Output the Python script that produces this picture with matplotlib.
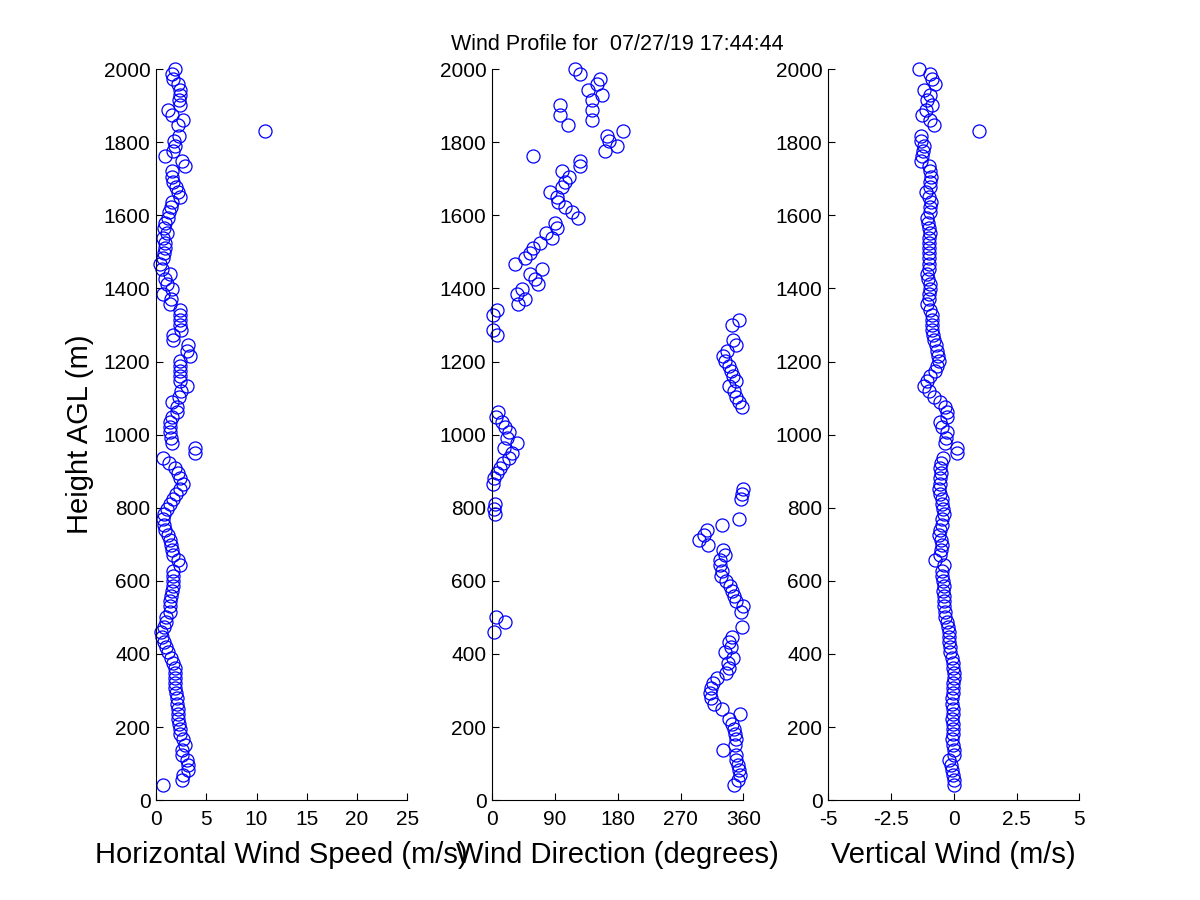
import matplotlib
matplotlib.use("Agg")
import matplotlib.pyplot as plt

plt.rcParams['font.family'] = ['Liberation Sans', 'DejaVu Sans']

# Range gate heights (m AGL), bottom to top
heights = [
    40, 54, 68, 82, 96, 110, 124, 138, 152, 166,
    180, 194, 208, 222, 236, 250, 264, 278, 292, 306,
    320, 334, 348, 362, 376, 390, 404, 418, 432, 446,
    460, 474, 488, 502, 516, 530, 544, 558, 572, 586,
    600, 614, 628, 642, 656, 670, 684, 698, 712, 726,
    740, 754, 768, 782, 796, 810, 824, 838, 852, 866,
    880, 894, 908, 922, 936, 950, 964, 978, 992, 1006,
    1020, 1034, 1048, 1062, 1076, 1090, 1104, 1118, 1132, 1146,
    1160, 1174, 1188, 1202, 1216, 1230, 1244, 1258, 1272, 1286,
    1300, 1314, 1328, 1342, 1356, 1370, 1384, 1398, 1412, 1426,
    1440, 1454, 1468, 1482, 1496, 1510, 1524, 1538, 1552, 1566,
    1580, 1594, 1608, 1622, 1636, 1650, 1664, 1678, 1692, 1706,
    1720, 1734, 1748, 1762, 1776, 1790, 1804, 1818, 1832, 1846,
    1860, 1874, 1888, 1902, 1916, 1930, 1944, 1958, 1972, 1986,
    2000,
]

# Horizontal wind speed (m/s)
speed = [
    0.7, 2.6, 2.7, 3.2, 3.2, 3.1, 2.6, 2.6, 2.9, 2.7,
    2.4, 2.4, 2.3, 2.2, 2.2, 2.2, 2.1, 2.1, 2.0, 1.9,
    1.9, 1.9, 1.9, 1.9, 1.7, 1.5, 1.2, 1.0, 0.8, 0.6,
    0.5, 0.8, 1.0, 1.0, 1.4, 1.4, 1.4, 1.5, 1.6, 1.7,
    1.7, 1.7, 1.7, 2.4, 2.2, 1.7, 1.6, 1.5, 1.4, 1.2,
    0.9, 0.8, 0.7, 0.8, 1.1, 1.4, 1.7, 2.0, 2.4, 2.7,
    2.4, 2.2, 1.9, 1.3, 0.7, 3.9, 3.9, 1.6, 1.5, 1.4,
    1.4, 1.4, 1.6, 2.1, 2.1, 1.6, 2.3, 2.5, 3.1, 2.4,
    2.4, 2.4, 2.4, 2.4, 3.4, 3.1, 3.2, 1.7, 1.7, 2.5,
    2.4, 2.4, 2.4, 2.4, 1.4, 1.5, 0.7, 1.6, 1.1, 0.9,
    1.4, 0.6, 0.4, 0.7, 0.8, 0.9, 0.9, 0.7, 1.1, 0.8,
    0.9, 1.2, 1.3, 1.5, 1.6, 2.4, 2.2, 2.0, 1.7, 1.6,
    1.6, 2.9, 2.6, 0.9, 1.7, 1.9, 1.8, 2.3, 10.8, 2.2,
    2.7, 1.6, 1.2, 2.4, 2.3, 2.4, 2.4, 2.2, 1.7, 1.6,
    1.9,
]

# Wind direction (degrees)
direction = [
    346, 352, 355, 353, 352, 350, 349, 331, 348, 349,
    348, 347, 343, 339, 355, 330, 318, 314, 312, 314,
    316, 322, 335, 340, 338, 345, 333, 342, 340, 344,
    3, 358, 19, 6, 356, 359, 350, 346, 343, 341,
    335, 328, 330, 326, 327, 333, 331, 310, 296, 303,
    308, 330, 353, 4, 3, 5, 357, 358, 359, 1,
    3, 7, 12, 16, 25, 29, 17, 36, 22, 24,
    18, 14, 6, 8, 358, 354, 350, 346, 339, 350,
    345, 342, 340, 334, 331, 336, 349, 345, 7, 2,
    343, 353, 2, 7, 37, 47, 36, 43, 66, 62,
    55, 71, 33, 47, 55, 59, 69, 86, 78, 93,
    90, 123, 114, 105, 95, 93, 83, 100, 105, 110,
    100, 126, 126, 59, 162, 179, 167, 165, 188, 109,
    143, 98, 143, 98, 143, 157, 138, 150, 155, 126,
    119,
]

# Vertical wind (m/s)
vertical = [
    0.0, 0.02, -0.03, -0.07, -0.12, -0.2, 0.0, 0.02, -0.02, -0.05,
    -0.03, -0.02, -0.03, -0.05, -0.03, -0.04, -0.05, -0.05, -0.03, -0.02,
    -0.01, 0.0, 0.02, -0.02, -0.03, -0.08, -0.13, -0.15, -0.18, -0.2,
    -0.2, -0.22, -0.28, -0.33, -0.35, -0.38, -0.4, -0.4, -0.42, -0.4,
    -0.44, -0.46, -0.45, -0.4, -0.75, -0.55, -0.5, -0.46, -0.52, -0.6,
    -0.55, -0.48, -0.46, -0.4, -0.42, -0.45, -0.46, -0.55, -0.6, -0.56,
    -0.53, -0.5, -0.55, -0.5, -0.42, 0.13, 0.13, -0.35, -0.3, -0.26,
    -0.45, -0.53, -0.26, -0.26, -0.35, -0.53, -0.8, -0.99, -1.19, -1.05,
    -0.93, -0.73, -0.66, -0.6, -0.63, -0.66, -0.72, -0.79, -0.84, -0.86,
    -0.86, -0.88, -0.86, -0.95, -1.06, -1.0, -0.97, -0.93, -0.95, -1.02,
    -1.06, -1.0, -0.99, -0.99, -0.97, -1.0, -0.98, -0.99, -0.96, -0.99,
    -1.02, -1.06, -0.95, -0.93, -0.92, -0.97, -1.12, -0.95, -0.93, -0.92,
    -0.93, -0.99, -1.32, -1.26, -1.22, -1.19, -1.32, -1.3, 0.99, -0.79,
    -0.93, -1.26, -1.1, -0.86, -1.06, -0.93, -1.19, -0.73, -0.85, -0.93,
    -1.39,
]

title_text = "Wind Profile for  07/27/19 17:44:44"

panels = [
    (speed, (0, 25), [0, 5, 10, 15, 20, 25], ["0", "5", "10", "15", "20", "25"],
     "Horizontal Wind Speed (m/s)"),
    (direction, (0, 360), [0, 90, 180, 270, 360], ["0", "90", "180", "270", "360"],
     "Wind Direction (degrees)"),
    (vertical, (-5, 5), [-5, -2.5, 0, 2.5, 5], ["-5", "-2.5", "0", "2.5", "5"],
     "Vertical Wind (m/s)"),
]

fig = plt.figure(figsize=(12, 9), dpi=100)
lefts = [0.13, 0.41, 0.69]

axes = []
for left, (vals, xlim, xt, xtl, xlab) in zip(lefts, panels):
    ax = fig.add_axes([left, 0.111, 0.2095, 0.8122])
    ax.plot(vals, heights, 'o', mfc='none', mec=(0, 0, 1), ms=9.4, mew=0.9,
            clip_on=False)
    ax.set_xlim(*xlim)
    ax.set_ylim(0, 2000)
    ax.set_xticks(xt)
    ax.set_xticklabels(xtl)
    ax.set_yticks(range(0, 2001, 200))
    ax.spines['top'].set_visible(False)
    ax.spines['right'].set_visible(False)
    for s in ('left', 'bottom'):
        ax.spines[s].set_linewidth(0.8)
    ax.tick_params(direction='in', length=5, width=0.8, labelsize=15, pad=4)
    ax.tick_params(axis='x', pad=7)
    ax.set_xlabel(xlab, fontsize=21, labelpad=9)
    axes.append(ax)

axes[0].set_ylabel("Height AGL (m)", fontsize=21, labelpad=7)
axes[1].set_title(title_text, fontsize=15.5, pad=14)

fig.savefig("out.png", dpi=100)
